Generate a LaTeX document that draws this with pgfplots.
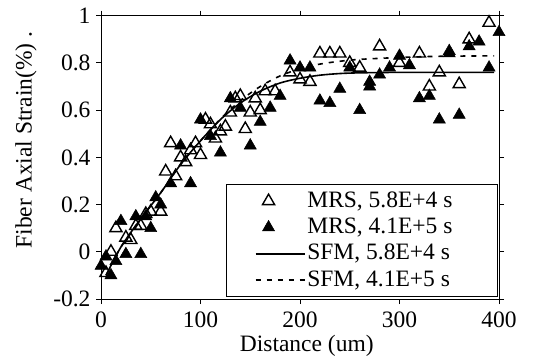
\documentclass[border=0pt]{standalone}
\usepackage{pgfplots}
\pgfplotsset{compat=1.18}
\usepackage{fontspec}
\setmainfont{Liberation Serif}
\pgfplotsset{
  markleg/.style={legend image code/.code={\draw[##1] plot coordinates {(13bp,0bp)};}},
  lineleg/.style={legend image code/.code={\draw[##1] (0bp,0bp) -- (49bp,0bp);}},
}
\begin{document}
\begin{tikzpicture}
\begin{axis}[
  name=ax,
  scale only axis, width=398bp, height=283.3bp,
  xmin=0, xmax=400, ymin=-0.2, ymax=1,
  clip=false,
  font=\fontsize{23.5bp}{27bp}\selectfont,
  axis line style={line width=1bp, black},
  tick style={line width=1bp, black},
  tick align=outside, major tick length=5bp,
  xtick={0,100,200,300,400}, xticklabels={0,100,200,300,400},
  ytick={-0.2,0,0.2,0.4,0.6,0.8,1}, yticklabels={-0.2,0,0.2,0.4,0.6,0.8,1},
  xticklabel style={yshift=-4bp},
  yticklabel style={xshift=-2bp},
  every axis x label/.style={at={(axis description cs:0.517,-0.166)}, anchor=center},
  every axis y label/.style={at={(axis description cs:-0.1884,0.561)}, rotate=90, anchor=center},
  xlabel={Distance (um)},
  ylabel={Fiber Axial Strain(\%) .},
  legend cell align=left,
  legend style={at={(rel axis cs:0.9975,0.007)}, anchor=south east,
    draw=black, line width=1bp, inner xsep=28bp, inner ysep=5.5bp,
    nodes={inner sep=0pt, text height=17bp, text depth=5bp},
    row sep=4.3bp, column sep=2bp,
    font=\fontsize{23.5bp}{27bp}\selectfont},
]
\addplot[only marks, mark=triangle, mark size=7bp, line width=1.4bp, black, markleg]
coordinates {
(5,-0.09) (10,0.0) (15,0.10) (25,0.06) (30,0.05) (35,0.11) (40,0.11) (45,0.16)
(50,0.17) (60,0.17) (65,0.34) (70,0.46) (75,0.32) (80,0.40) (85,0.38) (90,0.43)
(95,0.46) (100,0.41) (105,0.56) (110,0.54) (115,0.48) (120,0.51) (125,0.53)
(130,0.59) (135,0.65) (140,0.66) (145,0.52) (150,0.59) (155,0.65) (160,0.60)
(165,0.68) (175,0.68) (190,0.76) (200,0.73) (210,0.72) (220,0.84) (230,0.84)
(240,0.84) (250,0.80) (260,0.78) (280,0.87) (300,0.80) (320,0.84) (330,0.70)
(340,0.76) (360,0.71) (370,0.90) (390,0.97)
};
\addlegendentry{MRS, 5.8E+4 s\hspace*{17bp}}
\addplot[only marks, mark=triangle*, mark size=7bp, line width=0.5bp, black, fill=black, markleg]
coordinates {
(0,-0.06) (5,-0.02) (10,-0.10) (15,-0.04) (20,0.13) (25,-0.01) (35,0.15) (40,-0.01)
(45,0.15) (50,0.10) (55,0.23) (60,0.20) (70,0.29) (80,0.45) (90,0.29) (100,0.56)
(110,0.49) (120,0.42) (130,0.65) (140,0.61) (150,0.45) (160,0.55) (170,0.61)
(180,0.66) (190,0.81) (200,0.78) (210,0.78) (220,0.64) (230,0.63) (240,0.69)
(250,0.78) (260,0.60) (270,0.72) (270,0.70) (280,0.75) (290,0.78) (300,0.83)
(310,0.79) (320,0.65) (330,0.66) (340,0.56) (350,0.85) (350,0.84) (360,0.58)
(370,0.87) (380,0.89) (390,0.78) (400,0.93)
};
\addlegendentry{MRS, 4.1E+5 s}
\addplot[black, line width=1.6bp, smooth, lineleg] coordinates {
(5,-0.10) (20,0.02) (40,0.14) (60,0.25) (80,0.37) (100,0.47) (120,0.56) (140,0.63)
(160,0.68) (180,0.715) (200,0.735) (220,0.748) (240,0.755) (260,0.758) (300,0.76)
(340,0.76) (395,0.76)
};
\addlegendentry{SFM, 5.8E+4 s}
\addplot[black, line width=1.6bp, dash pattern=on 5bp off 6bp, smooth, lineleg] coordinates {
(5,-0.10) (20,0.02) (40,0.14) (60,0.25) (80,0.37) (100,0.47) (120,0.562) (140,0.64)
(160,0.70) (180,0.745) (200,0.775) (220,0.795) (240,0.807) (260,0.815) (300,0.823)
(340,0.828) (395,0.83)
};
\addlegendentry{SFM, 4.1E+5 s}
\end{axis}
\pgfresetboundingbox
\path ([xshift=-101bp,yshift=-62bp]ax.south west) rectangle ([xshift=35bp,yshift=15.7bp]ax.north east);
\end{tikzpicture}
\end{document}
